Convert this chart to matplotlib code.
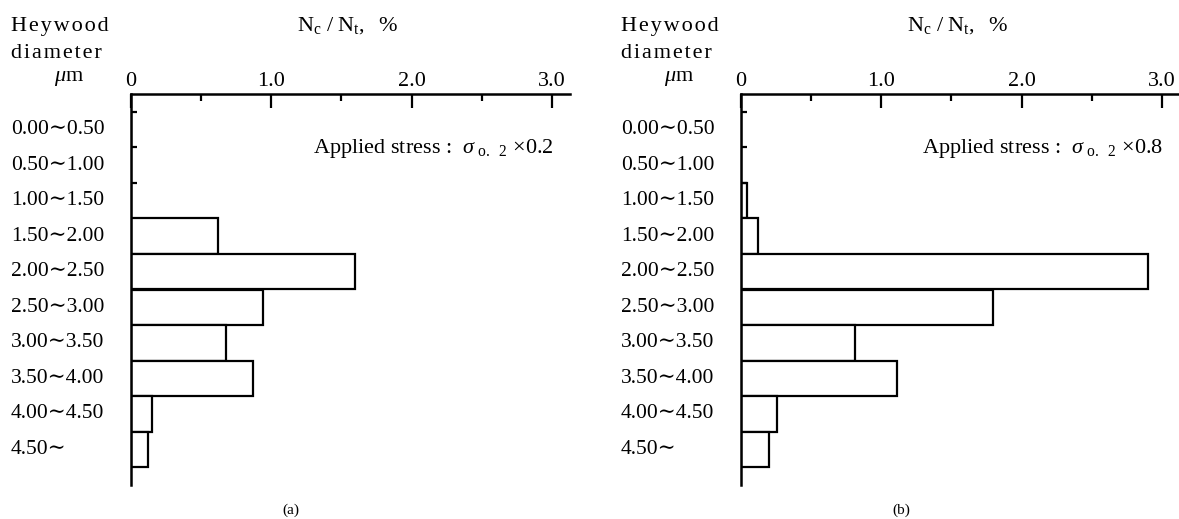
import matplotlib.pyplot as plt
import matplotlib.transforms as mtransforms

plt.rcParams['mathtext.fontset'] = 'custom'
plt.rcParams['mathtext.rm'] = 'Liberation Serif'
plt.rcParams['mathtext.it'] = 'Liberation Serif:italic'

SERIF = ['Liberation Serif', 'DejaVu Serif']

# Heywood diameter classes (um)
classes = ['0.00∼0.50', '0.50∼1.00', '1.00∼1.50', '1.50∼2.00', '2.00∼2.50',
           '2.50∼3.00', '3.00∼3.50', '3.50∼4.00', '4.00∼4.50', '4.50∼']

# Nc / Nt, % for each class
ratio_a = [0.0, 0.0, 0.0, 0.62, 1.60, 0.94, 0.68, 0.87, 0.15, 0.12]
ratio_b = [0.0, 0.0, 0.045, 0.12, 2.90, 1.80, 0.81, 1.11, 0.26, 0.20]

stress_a = '0.2'
stress_b = '0.8'
panel_names = ['(a)', '(b)']

W, H = 1179, 519
fig = plt.figure(figsize=(W / 100, H / 100), dpi=100)


def draw_panel(left_px, values, stress, name):
    ax = fig.add_axes([left_px / W, 1 - 485 / H, 439 / W, (485 - 94) / H])
    y = list(range(len(values)))
    ax.barh(y, values, height=1.0, left=0, color='white',
            edgecolor='black', linewidth=1.6)
    ax.set_xlim(0, 3.13)
    ax.set_ylim(10, -1)

    for s in ['right', 'bottom']:
        ax.spines[s].set_visible(False)
    for s in ['top', 'left']:
        ax.spines[s].set_linewidth(1.8)

    ax.xaxis.tick_top()
    ax.set_xticks([0, 1, 2, 3])
    ax.set_xticklabels(['0', '1.0', '2.0', '3.0'], family=SERIF, fontsize=16)
    ax.set_xticks([0.5, 1.5, 2.5], minor=True)
    ax.tick_params(axis='x', which='major', direction='in', length=10,
                   width=1.6, pad=2)
    ax.tick_params(axis='x', which='minor', direction='in', length=5,
                   width=1.6)
    ax.set_yticks([-0.5, 0.5, 1.5])
    ax.set_yticklabels([])
    ax.tick_params(axis='y', direction='in', length=4, width=1.6)

    # class labels, left aligned
    tr = mtransforms.blended_transform_factory(fig.transFigure, ax.transData)
    x0 = (left_px - 120) / W
    for i, lab in enumerate(classes):
        ax.text(x0, i, lab, transform=tr, ha='left', va='center',
                fontsize=15.5, family=SERIF)

    # header texts
    fig.text(x0, 1 - 27 / H, 'H e y w o o d'.replace(' ', '\u200a'),
             ha='left', va='center', fontsize=16, family=SERIF)
    fig.text(x0, 1 - 53 / H, 'd i a m e t e r'.replace(' ', '\u200a'),
             ha='left', va='center', fontsize=16, family=SERIF)
    fig.text(x0 + 58 / W, 1 - 78 / H, r'$\mu\mathrm{m}$',
             ha='center', va='center', fontsize=16)
    fig.text((left_px + 216) / W, 1 - 26 / H,
             r'$\mathrm{N_c\ /\ N_t,\ \ \%}$',
             ha='center', va='center', fontsize=16)
    ax.text(0.962, 1 - (148 - 94) / (485 - 94),
            r'Applied stress :  $\sigma_{\mathrm{\ o.\ \ 2}}$' + ' ×' + stress,
            transform=ax.transAxes, ha='right', va='center', fontsize=16,
            family=SERIF)
    fig.text((left_px + 160) / W, 1 - 510 / H, name, ha='center',
             va='center', fontsize=11, family=SERIF)
    return ax


draw_panel(131, ratio_a, stress_a, panel_names[0])
draw_panel(741, ratio_b, stress_b, panel_names[1])

fig.savefig('out.png', dpi=100)
